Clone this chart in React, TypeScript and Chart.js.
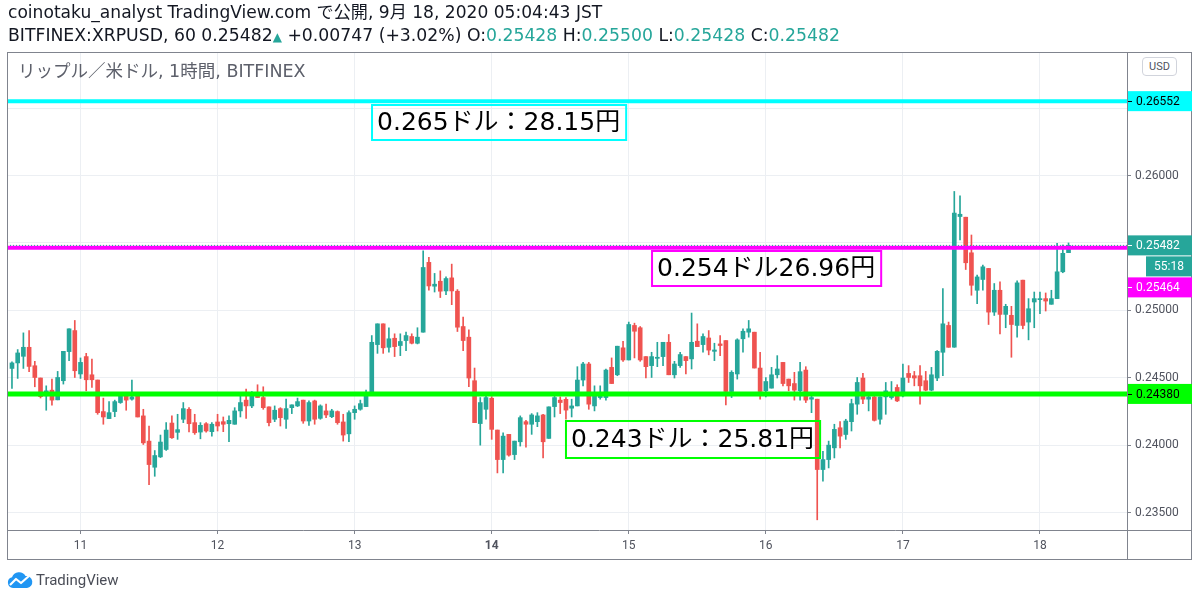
import React, { useEffect, useRef } from 'react';
import { Chart, registerables } from 'chart.js';

Chart.register(...registerables);

// ---- data -------------------------------------------------------------
// hourly candles, first candle = Sep 10 12:00 (hours counted from Sep 11 00:00)
const FIRST_HOUR = -12;

const opens = [
  0.24569, 0.24610, 0.24659, 0.24726, 0.24589, 0.24498, 0.24366, 0.24408, 0.24336, 0.24478,
  0.24694, 0.24850, 0.24528, 0.24657, 0.24522, 0.24483, 0.24249, 0.24197, 0.24249, 0.24316,
  0.24366, 0.24341, 0.24366, 0.24217, 0.24030, 0.23836, 0.23913, 0.23968, 0.24164, 0.24095,
  0.24192, 0.24266, 0.24167, 0.24097, 0.24159, 0.24100, 0.24172, 0.24174, 0.24159, 0.24155,
  0.24254, 0.24334, 0.24291, 0.24366, 0.24353, 0.24284, 0.24192, 0.24271, 0.24192, 0.24278,
  0.24291, 0.24334, 0.24179, 0.24328, 0.24199, 0.24254, 0.24211, 0.24249, 0.24172, 0.24084,
  0.24241, 0.24266, 0.24286, 0.24390, 0.24746, 0.24900, 0.24726, 0.24793, 0.24739, 0.24776,
  0.24806, 0.24756, 0.24838, 0.25356, 0.25179, 0.25216, 0.25144, 0.25241, 0.25142, 0.24880,
  0.24801, 0.24478, 0.24160, 0.24266, 0.24348, 0.24112, 0.23893, 0.24080, 0.23930, 0.24025,
  0.24174, 0.24155, 0.24174, 0.24224, 0.24050, 0.24286, 0.24334, 0.24340, 0.24274, 0.24291,
  0.24483, 0.24602, 0.24291, 0.24353, 0.24353, 0.24577, 0.24522, 0.24722, 0.24632, 0.24888,
  0.24871, 0.24657, 0.24590, 0.24644, 0.24657, 0.24763, 0.24522, 0.24590, 0.24657, 0.24640,
  0.24771, 0.24746, 0.24795, 0.24696, 0.24751, 0.24776, 0.24398, 0.24528, 0.24789, 0.24838,
  0.24838, 0.24572, 0.24403, 0.24423, 0.24522, 0.24614, 0.24490, 0.24457, 0.24403, 0.24557,
  0.24341, 0.24341, 0.23819, 0.23893, 0.23980, 0.24129, 0.24079, 0.24174, 0.24304, 0.24498,
  0.24341, 0.24358, 0.24192, 0.24358, 0.24353, 0.24428, 0.24366, 0.24532, 0.24515, 0.24515,
  0.24478, 0.24408, 0.24498, 0.24689, 0.24888, 0.24726, 0.25696, 0.25691, 0.25427, 0.25149,
  0.25229, 0.25311, 0.24987, 0.25149, 0.24970, 0.24963, 0.24888, 0.25224, 0.24913, 0.25062,
  0.25079, 0.25087, 0.25045, 0.25087, 0.25286, 0.25428,
];

const highs = [
  0.24619, 0.24709, 0.24833, 0.24850, 0.24622, 0.24498, 0.24440, 0.24490, 0.24547, 0.24696,
  0.24863, 0.24925, 0.24647, 0.24681, 0.24639, 0.24483, 0.24349, 0.24323, 0.24334, 0.24366,
  0.24366, 0.24483, 0.24366, 0.24266, 0.24142, 0.23960, 0.24075, 0.24167, 0.24217, 0.24229,
  0.24316, 0.24278, 0.24229, 0.24167, 0.24167, 0.24167, 0.24229, 0.24209, 0.24217, 0.24278,
  0.24378, 0.24416, 0.24398, 0.24448, 0.24433, 0.24284, 0.24291, 0.24278, 0.24341, 0.24299,
  0.24349, 0.24334, 0.24328, 0.24334, 0.24299, 0.24304, 0.24266, 0.24254, 0.24229, 0.24254,
  0.24291, 0.24334, 0.24408, 0.24813, 0.24900, 0.24900, 0.24871, 0.24826, 0.24826, 0.24838,
  0.24826, 0.24871, 0.25442, 0.25393, 0.25274, 0.25293, 0.25248, 0.25343, 0.25154, 0.24950,
  0.24856, 0.24572, 0.24353, 0.24366, 0.24360, 0.24112, 0.24092, 0.24080, 0.24030, 0.24217,
  0.24184, 0.24234, 0.24241, 0.24229, 0.24284, 0.24366, 0.24358, 0.24353, 0.24341, 0.24582,
  0.24614, 0.24614, 0.24440, 0.24440, 0.24565, 0.24647, 0.24734, 0.24771, 0.24913, 0.24905,
  0.24880, 0.24657, 0.24689, 0.24763, 0.24763, 0.24821, 0.24622, 0.24689, 0.24657, 0.24980,
  0.24900, 0.24826, 0.24850, 0.24756, 0.24813, 0.24776, 0.24552, 0.24789, 0.24863, 0.24925,
  0.24838, 0.24689, 0.24502, 0.24577, 0.24664, 0.24614, 0.24490, 0.24540, 0.24614, 0.24582,
  0.24366, 0.24341, 0.23955, 0.24030, 0.24155, 0.24174, 0.24192, 0.24341, 0.24502, 0.24532,
  0.24366, 0.24378, 0.24358, 0.24465, 0.24472, 0.24448, 0.24602, 0.24590, 0.24547, 0.24590,
  0.24547, 0.24577, 0.24701, 0.25162, 0.24913, 0.25882, 0.25850, 0.25691, 0.25559, 0.25261,
  0.25336, 0.25311, 0.25199, 0.25211, 0.25045, 0.25030, 0.25219, 0.25224, 0.25087, 0.25136,
  0.25136, 0.25129, 0.25149, 0.25497, 0.25485, 0.25500,
];

const lows = [
  0.24420, 0.24495, 0.24569, 0.24545, 0.24433, 0.24350, 0.24259, 0.24296, 0.24336, 0.24453,
  0.24627, 0.24502, 0.24495, 0.24403, 0.24428, 0.24229, 0.24155, 0.24197, 0.24211, 0.24310,
  0.24259, 0.24334, 0.24209, 0.24005, 0.23707, 0.23769, 0.23908, 0.23960, 0.24050, 0.24043,
  0.24167, 0.24099, 0.24080, 0.24047, 0.24097, 0.24067, 0.24105, 0.24100, 0.24025, 0.24155,
  0.24209, 0.24199, 0.24278, 0.24353, 0.24266, 0.24142, 0.24174, 0.24142, 0.24125, 0.24234,
  0.24286, 0.24162, 0.24147, 0.24155, 0.24192, 0.24204, 0.24204, 0.24155, 0.24030, 0.24025,
  0.24192, 0.24259, 0.24286, 0.24390, 0.24681, 0.24681, 0.24689, 0.24657, 0.24664, 0.24701,
  0.24751, 0.24751, 0.24838, 0.25149, 0.25136, 0.25095, 0.25117, 0.25042, 0.24843, 0.24701,
  0.24433, 0.24167, 0.24000, 0.24192, 0.24043, 0.23794, 0.23794, 0.23918, 0.23893, 0.23993,
  0.23985, 0.24080, 0.24137, 0.23905, 0.24050, 0.24209, 0.24234, 0.24192, 0.24209, 0.24291,
  0.24440, 0.24266, 0.24254, 0.24341, 0.24334, 0.24457, 0.24515, 0.24622, 0.24632, 0.24647,
  0.24622, 0.24498, 0.24502, 0.24582, 0.24590, 0.24522, 0.24498, 0.24577, 0.24528, 0.24565,
  0.24731, 0.24689, 0.24670, 0.24627, 0.24664, 0.24299, 0.24353, 0.24490, 0.24689, 0.24801,
  0.24572, 0.24341, 0.24358, 0.24423, 0.24498, 0.24440, 0.24403, 0.24334, 0.24334, 0.24316,
  0.24241, 0.23446, 0.23732, 0.23831, 0.23905, 0.23980, 0.24043, 0.24105, 0.24229, 0.24308,
  0.24254, 0.24179, 0.24155, 0.24229, 0.24341, 0.24323, 0.24358, 0.24465, 0.24440, 0.24304,
  0.24403, 0.24403, 0.24478, 0.24515, 0.24726, 0.24726, 0.25522, 0.25303, 0.25112, 0.25050,
  0.25149, 0.24895, 0.24962, 0.24826, 0.24871, 0.24652, 0.24801, 0.24863, 0.24781, 0.24871,
  0.24975, 0.24995, 0.25045, 0.25087, 0.25279, 0.25428,
];

const closes = [
  0.24610, 0.24684, 0.24726, 0.24584, 0.24502, 0.24360, 0.24403, 0.24334, 0.24502, 0.24696,
  0.24863, 0.24552, 0.24614, 0.24485, 0.24485, 0.24241, 0.24209, 0.24241, 0.24323, 0.24366,
  0.24334, 0.24358, 0.24209, 0.24017, 0.23856, 0.23923, 0.24023, 0.24112, 0.24055, 0.24115,
  0.24271, 0.24159, 0.24092, 0.24147, 0.24105, 0.24155, 0.24142, 0.24155, 0.24184, 0.24254,
  0.24316, 0.24291, 0.24366, 0.24353, 0.24278, 0.24167, 0.24259, 0.24204, 0.24271, 0.24299,
  0.24323, 0.24179, 0.24316, 0.24192, 0.24291, 0.24224, 0.24254, 0.24167, 0.24075, 0.24241,
  0.24266, 0.24308, 0.24378, 0.24763, 0.24900, 0.24722, 0.24789, 0.24731, 0.24769, 0.24813,
  0.24756, 0.24801, 0.25318, 0.25181, 0.25194, 0.25142, 0.25236, 0.25144, 0.24875, 0.24776,
  0.24498, 0.24167, 0.24316, 0.24353, 0.24117, 0.23893, 0.24067, 0.23926, 0.24030, 0.24204,
  0.24155, 0.24224, 0.24217, 0.24025, 0.24284, 0.24353, 0.24316, 0.24260, 0.24291, 0.24483,
  0.24602, 0.24304, 0.24366, 0.24373, 0.24557, 0.24457, 0.24734, 0.24632, 0.24895, 0.24845,
  0.24632, 0.24582, 0.24657, 0.24652, 0.24763, 0.24522, 0.24602, 0.24672, 0.24627, 0.24763,
  0.24731, 0.24806, 0.24705, 0.24706, 0.24739, 0.24398, 0.24540, 0.24781, 0.24845, 0.24863,
  0.24572, 0.24398, 0.24472, 0.24522, 0.24565, 0.24457, 0.24440, 0.24408, 0.24545, 0.24334,
  0.24353, 0.23819, 0.23893, 0.24000, 0.24117, 0.24067, 0.24179, 0.24308, 0.24465, 0.24341,
  0.24358, 0.24184, 0.24358, 0.24403, 0.24378, 0.24328, 0.24498, 0.24502, 0.24498, 0.24440,
  0.24408, 0.24522, 0.24696, 0.24900, 0.24726, 0.25721, 0.25713, 0.25353, 0.25186, 0.25248,
  0.25323, 0.24987, 0.25149, 0.24970, 0.25030, 0.24895, 0.25204, 0.24888, 0.25012, 0.25087,
  0.25087, 0.25069, 0.25087, 0.25286, 0.25423, 0.25482,
];

const dayTicks = [0, 24, 48, 72, 96, 120, 144, 168];
const dayLabels = ['11', '12', '13', '14', '15', '16', '17', '18'];
const boldDay = '14';
const priceTicks = [0.235, 0.24, 0.245, 0.25, 0.255, 0.26, 0.265];

const levelPrices = [0.26552, 0.25464, 0.2438];
const lastPrice = 0.25482;
const countdownText = '55:18';

const noteTexts = ['0.265ドル：28.15円', '0.254ドル26.96円', '0.243ドル：25.81円'];
const noteHours = [50.87, 99.9, 84.83];
const notePrices = [0.265308, 0.254477, 0.241866];

// ---- styling ----------------------------------------------------------
const UP = '#26a69a';
const DOWN = '#ef5350';
const levelColors = ['#00ffff', '#ff00ff', '#00ff00'];
const levelWidths = [4, 4, 5];
const levelText = ['#000000', '#ffffff', '#000000'];
const noteHeights = [37, 37, 39];
const X_MIN = -12.87;
const X_MAX = 183.24;
const Y_MIN = 0.233705;
const Y_MAX = 0.269166;
const FONT = 'Roboto, "Noto Sans", "Noto Sans CJK JP", sans-serif';
const HEAD_FONT = '"DejaVu Sans", "Noto Sans CJK JP", sans-serif';
const AXIS_TEXT = '#50535e';
const GRID = '#eceff3';
const FRAME = '#80848e';

const colorAt = (ctx: any) => {
  const i = ctx.dataIndex;
  if (i == null) return UP;
  return closes[i] >= opens[i] ? UP : DOWN;
};

const overlayPlugin = {
  id: 'tvOverlay',
  afterDatasetsDraw(chart: any) {
    const { ctx, scales } = chart;
    const xs = scales.x;
    const ys = scales.y;
    ctx.save();
    ctx.font = '25px "DejaVu Sans", "Noto Sans CJK JP", sans-serif';
    ctx.textBaseline = 'middle';
    noteTexts.forEach((t, k) => {
      const x = xs.getPixelForValue(noteHours[k]);
      const y = ys.getPixelForValue(notePrices[k]);
      const h = noteHeights[k];
      const w = ctx.measureText(t).width + 13;
      ctx.strokeStyle = levelColors[k];
      ctx.lineWidth = 2;
      ctx.strokeRect(x + 1, y + 1, w - 2, h - 2);
      ctx.fillStyle = '#000';
      ctx.fillText(t, x + 6, y + h / 2 + 1);
    });
    ctx.restore();
  },
  afterDraw(chart: any) {
    const { ctx, chartArea, scales } = chart;
    const ys = scales.y;
    const L = chartArea.left, R = chartArea.right, T = chartArea.top, B = chartArea.bottom;
    const axisR = R + 65;
    const axisB = B + 30;
    ctx.save();
    // frame
    ctx.strokeStyle = FRAME;
    ctx.lineWidth = 1;
    ctx.strokeRect(L + 0.5, T + 0.5, axisR - L - 1, axisB - T - 1);
    ctx.beginPath();
    ctx.moveTo(R + 0.5, T);
    ctx.lineTo(R + 0.5, axisB);
    ctx.moveTo(L, B + 0.5);
    ctx.lineTo(axisR, B + 0.5);
    ctx.stroke();

    // price labels on the axis
    type Lab = { y: number; bg: string; fg: string; text: string; narrow?: boolean };
    const labs: Lab[] = [
      { y: ys.getPixelForValue(levelPrices[0]), bg: levelColors[0], fg: levelText[0], text: levelPrices[0].toFixed(5) },
      { y: ys.getPixelForValue(lastPrice), bg: UP, fg: '#ffffff', text: lastPrice.toFixed(5) },
      { y: ys.getPixelForValue(lastPrice) + 0.01, bg: UP, fg: '#ffffff', text: countdownText, narrow: true },
      { y: ys.getPixelForValue(levelPrices[1]), bg: levelColors[1], fg: levelText[1], text: levelPrices[1].toFixed(5) },
      { y: ys.getPixelForValue(levelPrices[2]), bg: levelColors[2], fg: levelText[2], text: levelPrices[2].toFixed(5) },
    ];
    labs.sort((a, b) => a.y - b.y);
    let prevBottom = -1e9;
    ctx.font = `12px ${FONT}`;
    ctx.textBaseline = 'middle';
    labs.forEach((lb) => {
      const hgt = 20;
      const top = Math.max(lb.y - hgt / 2, prevBottom + 1);
      prevBottom = top + hgt;
      const x0 = lb.narrow ? R + 19 : R + 1;
      ctx.fillStyle = lb.bg;
      ctx.fillRect(x0, top, axisR - x0, hgt);
      ctx.fillStyle = lb.fg;
      if (lb.narrow) {
        ctx.textAlign = 'center';
        ctx.fillText(lb.text, (x0 + axisR) / 2, top + hgt / 2 + 1);
      } else {
        ctx.textAlign = 'left';
        ctx.fillText(lb.text, R + 9, top + hgt / 2 + 1);
        ctx.strokeStyle = lb.fg;
        ctx.beginPath();
        ctx.moveTo(R + 1, Math.round(top + hgt / 2) + 0.5);
        ctx.lineTo(R + 5, Math.round(top + hgt / 2) + 0.5);
        ctx.stroke();
      }
    });
    ctx.restore();
  },
};

function TVLogo() {
  return (
    <svg width="26" height="18" viewBox="0 0 26 18" style={{ position: 'absolute', left: 7, top: 571 }}>
      <path d="M6 17 A5.5 5.5 0 0 1 5 6.2 A7.5 7.5 0 0 1 18.5 5 A6 6 0 0 1 20 17 Z" fill="#2196f3" />
      <polyline points="3,14 9,8 14,12 22,5" stroke="#ffffff" strokeWidth="2.2" fill="none" strokeLinejoin="round" />
    </svg>
  );
}

export default function App() {
  const ref = useRef<HTMLCanvasElement | null>(null);

  useEffect(() => {
    if (!ref.current) return;
    const hours = opens.map((_, i) => FIRST_HOUR + i);
    const wickData = hours.map((h, i) => ({ x: h, y: [lows[i], highs[i]] }));
    const bodyData = hours.map((h, i) => ({
      x: h,
      y: [Math.min(opens[i], closes[i]), Math.max(opens[i], closes[i])],
    }));
    const levelSets = levelPrices.map((p, k) => ({
      type: 'line',
      data: [{ x: X_MIN, y: p }, { x: X_MAX, y: p }],
      borderColor: levelColors[k],
      borderWidth: levelWidths[k],
      pointRadius: 0,
      fill: false,
      order: 0,
    }));
    const chart = new Chart(ref.current, {
      type: 'bar',
      data: {
        datasets: [
          {
            type: 'line',
            data: [{ x: X_MIN, y: lastPrice }, { x: X_MAX, y: lastPrice }],
            borderColor: UP,
            borderWidth: 1,
            borderDash: [1, 2],
            pointRadius: 0,
            fill: false,
            order: -1,
          } as any,
          ...(levelSets as any[]),
          {
            type: 'bar',
            data: bodyData as any,
            backgroundColor: colorAt,
            barThickness: 4,
            grouped: false,
            minBarLength: 1,
            borderWidth: 0,
            order: 1,
          } as any,
          {
            type: 'bar',
            data: wickData as any,
            backgroundColor: colorAt,
            barThickness: 1,
            grouped: false,
            borderWidth: 0,
            order: 2,
          } as any,
        ],
      },
      options: {
        animation: false,
        responsive: false,
        maintainAspectRatio: false,
        layout: { padding: { left: 7, top: 52, right: 8, bottom: 41 } },
        plugins: { legend: { display: false }, tooltip: { enabled: false } },
        scales: {
          x: {
            type: 'linear',
            min: X_MIN,
            max: X_MAX,
            offset: false,
            afterBuildTicks: (s: any) => {
              s.ticks = dayTicks.map((v) => ({ value: v }));
            },
            afterFit: (s: any) => {
              s.height = 30;
            },
            ticks: {
              autoSkip: false,
              maxRotation: 0,
              padding: 5,
              color: AXIS_TEXT,
              font: (c: any) => ({
                family: FONT,
                size: 12,
                weight:
                  c.tick && dayLabels[dayTicks.indexOf(c.tick.value)] === boldDay ? 'bold' : 'normal',
              }),
              callback: (v: any) => dayLabels[dayTicks.indexOf(Number(v))] ?? '',
            },
            grid: { color: GRID, tickColor: FRAME, tickLength: 4, offset: false },
            border: { display: false },
          },
          y: {
            type: 'linear',
            position: 'right',
            min: Y_MIN,
            max: Y_MAX,
            beginAtZero: false,
            afterBuildTicks: (s: any) => {
              s.ticks = priceTicks.map((v) => ({ value: v }));
            },
            afterFit: (s: any) => {
              s.width = 65;
            },
            ticks: {
              padding: 4,
              color: AXIS_TEXT,
              font: { family: FONT, size: 12 },
              callback: (v: any) => Number(v).toFixed(5),
            },
            grid: { color: GRID, tickColor: FRAME, tickLength: 4 },
            border: { display: false },
          },
        },
      } as any,
      plugins: [overlayPlugin],
    });
    return () => chart.destroy();
  }, []);

  const teal = { color: UP };
  return (
    <div
      style={{
        position: 'absolute',
        left: 0,
        top: 0,
        width: 1200,
        height: 601,
        background: '#ffffff',
        overflow: 'hidden',
        fontFamily: FONT,
      }}
    >
      <canvas ref={ref} width={1200} height={601} style={{ position: 'absolute', left: 0, top: 0 }} />
      <div style={{ position: 'absolute', left: 8, top: 2, fontFamily: HEAD_FONT, fontSize: 17.1, lineHeight: '21px', color: '#131722', whiteSpace: 'nowrap' }}>
        coinotaku_analyst TradingView.com で公開, 9月 18, 2020 05:04:43 JST
      </div>
      <div style={{ position: 'absolute', left: 8, top: 25, fontFamily: HEAD_FONT, fontSize: 17.25, lineHeight: '21px', color: '#131722', whiteSpace: 'nowrap' }}>
        BITFINEX:XRPUSD, 60 0.25482<span style={{ ...teal, fontSize: 12 }}>▲</span> +0.00747 (+3.02%) O:<span style={teal}>0.25428</span> H:<span style={teal}>0.25500</span> L:<span style={teal}>0.25428</span> C:<span style={teal}>0.25482</span>
      </div>
      <div style={{ position: 'absolute', left: 18, top: 61, fontFamily: HEAD_FONT, fontSize: 17.5, lineHeight: '21px', color: '#5d606b', whiteSpace: 'nowrap' }}>
        リップル／米ドル, 1時間, BITFINEX
      </div>
      <div
        style={{
          position: 'absolute',
          left: 1142,
          top: 57,
          width: 33,
          height: 17,
          border: '1px solid #d1d4dc',
          borderRadius: 4,
          fontSize: 11,
          lineHeight: '17px',
          textAlign: 'center',
          color: '#50535e',
          background: '#fff',
        }}
      >
        USD
      </div>
      <TVLogo />
      <div style={{ position: 'absolute', left: 36, top: 571, fontSize: 15, lineHeight: '18px', color: '#4a4d57', whiteSpace: 'nowrap' }}>
        TradingView
      </div>
    </div>
  );
}
